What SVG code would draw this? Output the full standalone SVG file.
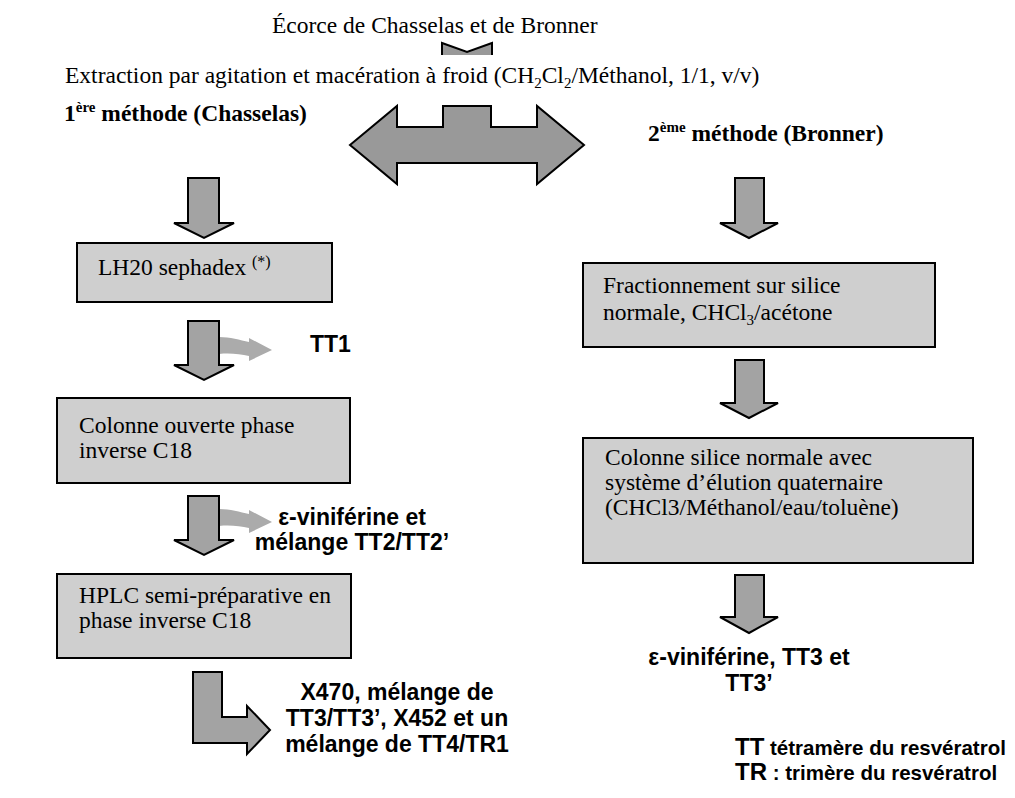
<svg xmlns="http://www.w3.org/2000/svg" width="1015" height="798" viewBox="0 0 1015 798">
  <style>
    .serif { font-family: "Liberation Serif", "Times New Roman", serif; font-size: 23.5px; fill: #000; }
    .serifb { font-family: "Liberation Serif", "Times New Roman", serif; font-size: 23.5px; font-weight: bold; fill: #000; }
    .sans { font-family: "Liberation Sans", Arial, sans-serif; font-size: 23px; font-weight: bold; fill: #000; }
    .key { font-family: "Liberation Sans", Arial, sans-serif; font-size: 24px; font-weight: bold; fill: #000; }
    .small { font-size: 20.5px; }
    .box { fill: #cfcfcf; stroke: #000; stroke-width: 2; }
    .arrow { fill: #a3a3a3; stroke: #000; stroke-width: 2; stroke-linejoin: miter; }
    .big { fill: #999999; stroke: #000; stroke-width: 2; }
    .side { fill: #ababab; stroke: none; }
  </style>

  <!-- title lines -->
  <g id="source">
    <text class="serif" x="272" y="33">Écorce de Chasselas et de Bronner</text>
  </g>
  <g id="extraction">
    <text class="serif" x="65" y="83">Extraction par agitation et macération à froid (CH<tspan font-size="15" dy="5">2</tspan><tspan dy="-5">Cl</tspan><tspan font-size="15" dy="5">2</tspan><tspan dy="-5">/Méthanol, 1/1, v/v)</tspan></text>
  </g>
  <g id="method1">
    <text class="serifb" x="64" y="121">1<tspan font-size="15" dy="-9">ère</tspan><tspan dy="9"> méthode (Chasselas)</tspan></text>
  </g>
  <g id="method2">
    <text class="serifb" x="648" y="141">2<tspan font-size="15" dy="-9">ème</tspan><tspan dy="9"> méthode (Bronner)</tspan></text>
  </g>

  <!-- left branch -->
  <g id="lh20">
    <rect class="box" x="77" y="243" width="255" height="59"/>
    <text class="serif" x="98" y="275">LH20 sephadex <tspan font-size="16" dy="-8">(*)</tspan></text>
  </g>
  <g id="c18-open">
    <rect class="box" x="57" y="398" width="293" height="85"/>
    <text class="serif" x="79" y="433">Colonne ouverte phase</text>
    <text class="serif" x="79" y="458">inverse C18</text>
  </g>
  <g id="hplc">
    <rect class="box" x="57" y="574" width="294" height="84"/>
    <text class="serif" x="79" y="603">HPLC semi-préparative en</text>
    <text class="serif" x="79" y="628">phase inverse C18</text>
  </g>
  <g id="tt1">
    <text class="sans" x="310" y="352">TT1</text>
  </g>
  <g id="viniferine-tt2">
    <text class="sans" x="352" y="525" text-anchor="middle">ε-viniférine et</text>
    <text class="sans" x="352" y="550" text-anchor="middle">mélange TT2/TT2’</text>
  </g>
  <g id="x470">
    <text class="sans" x="397" y="700" text-anchor="middle">X470, mélange de</text>
    <text class="sans" x="397" y="726" text-anchor="middle">TT3/TT3’, X452 et un</text>
    <text class="sans" x="397" y="752" text-anchor="middle">mélange de TT4/TR1</text>
  </g>

  <!-- right branch -->
  <g id="fractionnement">
    <rect class="box" x="583" y="263" width="352" height="84"/>
    <text class="serif" x="603" y="293">Fractionnement sur silice</text>
    <text class="serif" x="603" y="320">normale, CHCl<tspan font-size="15" dy="5">3</tspan><tspan dy="-5">/acétone</tspan></text>
  </g>
  <g id="silice-quaternaire">
    <rect class="box" x="583" y="438" width="390" height="125"/>
    <text class="serif" x="605" y="465">Colonne silice normale avec</text>
    <text class="serif" x="605" y="490">système d’élution quaternaire</text>
    <text class="serif" x="605" y="515">(CHCl3/Méthanol/eau/toluène)</text>
  </g>
  <g id="viniferine-tt3">
    <text class="sans" x="749" y="665" text-anchor="middle">ε-viniférine, TT3 et</text>
    <text class="sans" x="749" y="691" text-anchor="middle">TT3’</text>
  </g>

  <!-- legend -->
  <g id="legend">
    <text class="key" x="735" y="755">TT<tspan class="small"> tétramère du resvératrol</tspan></text>
    <text class="key" x="735" y="780">TR<tspan class="small"> : trimère du resvératrol</tspan></text>
  </g>

  <!-- connectors -->
  <g id="connectors">
    <!-- notch under the source label -->
    <polygon points="442,43 467,52 492,43 492,55 442,55" fill="#999999"/>
    <polyline points="442,55 442,43 467,52 492,43 492,55" fill="none" stroke="#000" stroke-width="2"/>
    <!-- split into the two methods -->
    <polygon class="big" points="350,145 397,106 397,127 443,127 443,106 491,106 491,127 537,127 537,106 584,145 537,184 537,163 397,163 397,184"/>
    <!-- left branch steps -->
    <path class="arrow" d="M188,178 H219 V223 H234 L204,238 L174,223 H188 Z"/>
    <path class="side" d="M219,337 C230,337 240,340 249,342 L249,338 L272,350 L249,361 L249,356 C240,354 230,353 219,354 Z"/>
    <path class="arrow" d="M188,321 H219 V365 H234 L204,380 L174,365 H188 Z"/>
    <path class="side" d="M219,509 C230,509 240,512 249,514 L249,510 L272,522 L249,533 L249,528 C240,526 230,525 219,526 Z"/>
    <path class="arrow" d="M188,496 H219 V540 H234 L204,555 L174,540 H188 Z"/>
    <path class="arrow" d="M193,672 H222 V717 H247 V706 L270,730 L247,754 V743 H193 Z"/>
    <!-- right branch steps -->
    <path class="arrow" d="M735,178 H764 V223 H778 L749,238 L720,223 H735 Z"/>
    <path class="arrow" d="M735,360 H764 V403 H778 L749,418 L720,403 H735 Z"/>
    <path class="arrow" d="M735,575 H764 V617 H778 L749,633 L720,617 H735 Z"/>
  </g>
</svg>
